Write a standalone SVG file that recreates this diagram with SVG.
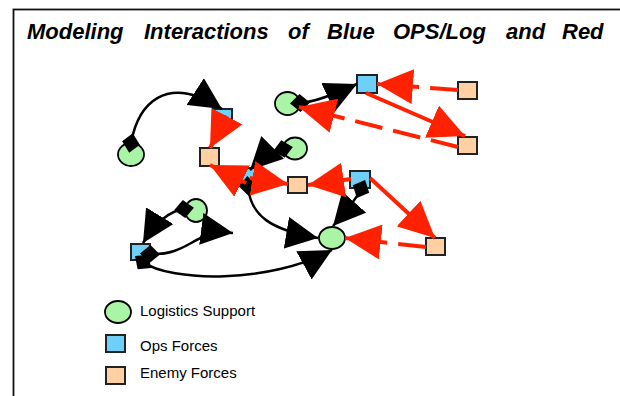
<svg xmlns="http://www.w3.org/2000/svg" width="620" height="396" viewBox="0 0 620 396">
<style>
.title{font-family:"Liberation Sans",Arial,sans-serif;font-size:22px;font-weight:bold;font-style:italic;fill:#000}
.leg{font-family:"Liberation Sans",Arial,sans-serif;font-size:15px;fill:#000}
.log{fill:#AAF5A5;stroke:#000;stroke-width:1.8}
.ops{fill:#6ECFF8;stroke:#222;stroke-width:2}
.ene{fill:#FFD0A2;stroke:#222;stroke-width:2}
.blk{fill:none;stroke:#000;stroke-width:2.5;marker-start:url(#dia);marker-end:url(#bh)}
.red{fill:none;stroke:#FF2200;stroke-width:4;marker-end:url(#rh)}
.dash{stroke-dasharray:28 11}
</style>
<defs>
<marker id="bh" markerUnits="userSpaceOnUse" viewBox="0 0 32 32" markerWidth="32" markerHeight="32" refX="32" refY="16" orient="auto"><path d="M0,0 L32,16 L0,32 z" fill="#000"/></marker>
<marker id="rh" markerUnits="userSpaceOnUse" viewBox="0 0 36 35" markerWidth="36" markerHeight="35" refX="36" refY="17.5" orient="auto"><path d="M0,0 L36,17.5 L0,35 z" fill="#FF2200"/></marker>
<marker id="dia" markerUnits="userSpaceOnUse" viewBox="-10 -10 20 20" markerWidth="20" markerHeight="20" refX="0" refY="0" orient="auto"><path d="M-10,0 L0,-9 L10,0 L0,9 z" fill="#000"/></marker>
</defs>
<rect x="13.5" y="9.5" width="700" height="500" fill="#fff" stroke="#111" stroke-width="1.8"/>
<text class="title" y="39"><tspan x="27">Modeling</tspan><tspan x="144">Interactions</tspan><tspan x="288">of</tspan><tspan x="327">Blue</tspan><tspan x="393">OPS/Log</tspan><tspan x="506">and</tspan><tspan x="562">Red</tspan></text>
<g id="G1"><ellipse class="log" cx="131" cy="154.5" rx="13" ry="11.5"/></g>
<g id="G2"><ellipse class="log" cx="287.5" cy="103.5" rx="12.5" ry="11.5"/></g>
<g id="G3"><ellipse class="log" cx="295" cy="148.5" rx="12" ry="11"/></g>
<g id="G4"><ellipse class="log" cx="196" cy="210.5" rx="11" ry="11.5"/></g>
<g id="G5"><ellipse class="log" cx="332" cy="238" rx="13" ry="11"/></g>
<g id="B1"><rect class="ops" x="213" y="109" width="19" height="17"/></g>
<g id="B2"><rect class="ops" x="357" y="75" width="20" height="18"/></g>
<g id="B3"><rect class="ops" x="240" y="168" width="19" height="17"/></g>
<g id="B4"><rect class="ops" x="350" y="171" width="20" height="17"/></g>
<g id="B5"><rect class="ops" x="131" y="244" width="19" height="16"/></g>
<g id="E1"><rect class="ene" x="458" y="82" width="19" height="17"/></g>
<g id="E2"><rect class="ene" x="458" y="137" width="19" height="17"/></g>
<g id="E3"><rect class="ene" x="200" y="148" width="19" height="18"/></g>
<g id="E4"><rect class="ene" x="288" y="177" width="19" height="16"/></g>
<g id="E5"><rect class="ene" x="426" y="238" width="19" height="17"/></g>
<g id="connectors">
<path class="blk" d="M131,143 C138,105 165,72 222,109"/>
<path class="blk" d="M300,103 Q318,102 357,84"/>
<path class="blk" d="M283,149 Q268,152 250,170"/>
<path class="blk" d="M248,186 C250,215 270,230 318,238"/>
<path class="blk" d="M361,189 Q356,200 333,226"/>
<path class="blk" d="M184,209 Q162,212 143,243"/>
<path class="blk" d="M150,254 C190,256 195,228 233,233"/>
<path class="blk" d="M143,262 C170,282 270,284 332,250"/>
<path class="red dash" d="M458,90 L377,84"/>
<path class="red dash" d="M458,147 L299,107"/>
<path class="red" d="M366,93 L465,136"/>
<path class="red" d="M370,178 L435,238"/>
<path class="red dash" d="M426,247 L345,238"/>
<path class="red" d="M351,179 L308,185"/>
<path class="red" d="M250,178 L288,184"/>
<path class="red" d="M246,183 L210,165"/>
<path class="red" d="M227,116 L210,148"/>
</g>
<g id="legend">
<ellipse class="log" cx="118" cy="312" rx="13" ry="11"/>
<text class="leg" x="140" y="316">Logistics Support</text>
<rect class="ops" x="106" y="335" width="19" height="17"/>
<text class="leg" x="140" y="351">Ops Forces</text>
<rect class="ene" x="106" y="367" width="19" height="17"/>
<text class="leg" x="140" y="378">Enemy Forces</text>
</g>
</svg>
